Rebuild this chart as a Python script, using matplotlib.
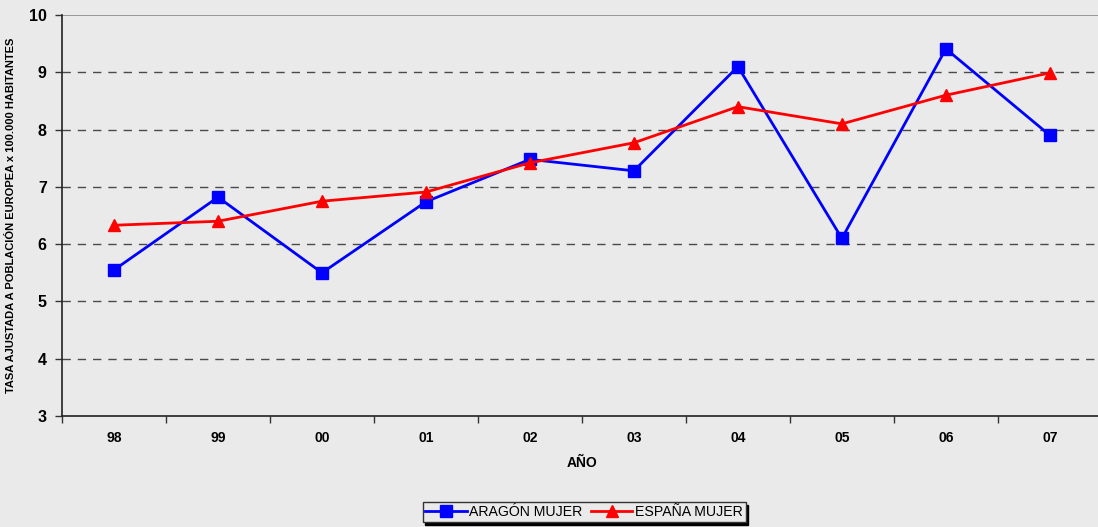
import matplotlib
matplotlib.use('Agg')
import matplotlib.pyplot as plt
import numpy as np

plt.rcParams['font.family'] = ['Liberation Sans', 'DejaVu Sans']

years = ['98', '99', '00', '01', '02', '03', '04', '05', '06', '07']
aragon = [5.55, 6.82, 5.50, 6.74, 7.48, 7.28, 9.10, 6.10, 9.41, 7.90]
espana = [6.33, 6.40, 6.75, 6.91, 7.42, 7.77, 8.40, 8.10, 8.60, 8.99]

bg = '#eaeaea'
fig = plt.figure(figsize=(10.98, 5.27), dpi=100)
fig.patch.set_facecolor(bg)
ax = fig.add_axes([0.0565, 0.2106, 0.947, 0.7609])
ax.set_facecolor(bg)

x = np.arange(len(years))
ax.plot(x, aragon, color='#0000ff', lw=2, marker='s', ms=9, label='ARAGÓN MUJER', zorder=3)
ax.plot(x, espana, color='#ff0000', lw=2, marker='^', ms=9, label='ESPAÑA MUJER', zorder=3)

ax.set_xlim(-0.5, len(years) - 0.5)
ax.set_ylim(3, 10)
ax.set_yticks(range(3, 11))
ax.set_xticks(x)
ax.set_xticklabels(years, fontsize=10, fontweight='bold')
ax.set_xticks(np.arange(-0.5, len(years)), minor=True)
ax.tick_params(axis='x', which='major', length=0, pad=11)
ax.tick_params(axis='x', which='minor', length=5, width=1, direction='out', color='#333333')
ax.tick_params(axis='y', labelsize=11.5, length=5, width=1, color='#333333', pad=6)
for lab in ax.get_yticklabels():
    lab.set_fontweight('bold')

# dashed horizontal grid, solid line at the top
for v in range(4, 10):
    ax.axhline(v, color='#4a4a4a', lw=1, ls=(0, (6, 5)), zorder=1)
ax.axhline(10, color='#888888', lw=1.2, zorder=1)

for s in ['top', 'right']:
    ax.spines[s].set_visible(False)
for s in ['left', 'bottom']:
    ax.spines[s].set_linewidth(1.2)
    ax.spines[s].set_color('#222222')

ax.set_xlabel('AÑO', fontsize=10, fontweight='bold', labelpad=8)
ax.set_ylabel('TASA AJUSTADA A POBLACIÓN EUROPEA x 100.000 HABITANTES',
              fontsize=8, fontweight='bold', labelpad=9)

leg = fig.legend(loc='center', bbox_to_anchor=(0.532, 0.0285), ncol=2, fontsize=10.2,
                 frameon=True, fancybox=False, shadow={'color': 'black', 'alpha': 1},
                 edgecolor='#333333', handlelength=2.9, handletextpad=0.2,
                 columnspacing=0.6, borderpad=0.2, borderaxespad=0)
leg.get_frame().set_facecolor(bg)
leg.get_frame().set_linewidth(1)

fig.savefig('out.png', dpi=100, facecolor=bg)
